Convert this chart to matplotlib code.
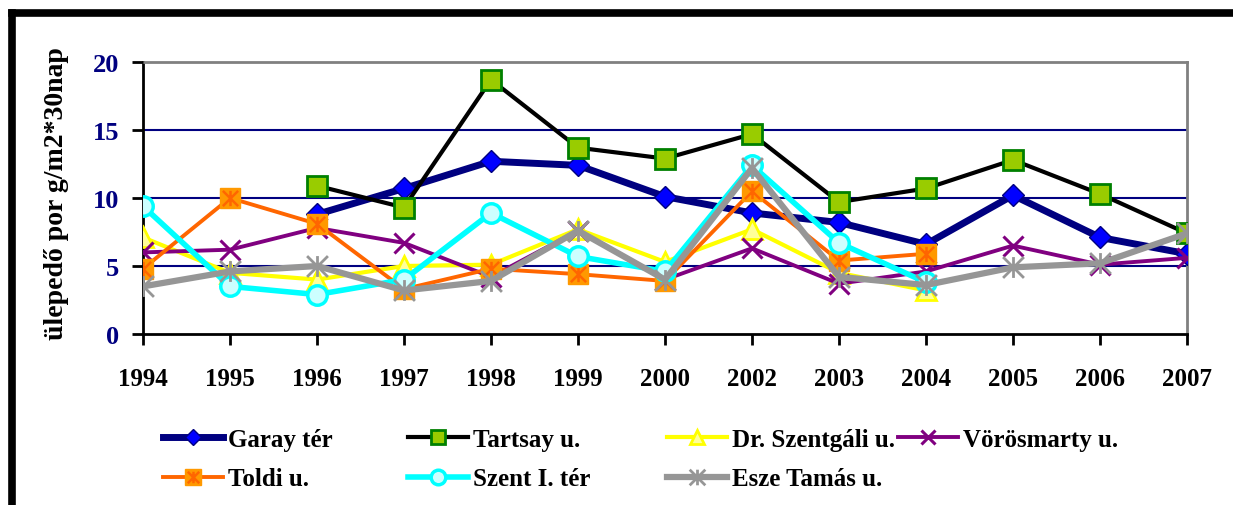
import matplotlib.pyplot as plt
import numpy as np
from matplotlib.lines import Line2D
from matplotlib.path import Path
from matplotlib.legend_handler import HandlerTuple

plt.rcParams['font.family'] = ['Liberation Serif', 'DejaVu Serif']
plt.rcParams['font.weight'] = 'bold'

years = ['1994', '1995', '1996', '1997', '1998', '1999', '2000',
         '2002', '2003', '2004', '2005', '2006', '2007']
nan = np.nan

garay = [nan, nan, 8.8, 10.7, 12.7, 12.4, 10.1, 8.9, 8.2, 6.6, 10.2, 7.1, 5.9]
tartsay = [nan, nan, 10.9, 9.3, 18.7, 13.7, 12.9, 14.7, 9.7, 10.7, 12.8, 10.3, 7.4]
szentgali = [7.1, 4.5, 4.0, 5.0, 5.1, 7.7, 5.3, 7.7, 4.5, 3.2, nan, nan, nan]
vorosmarty = [6.0, 6.2, 7.8, 6.7, 4.2, 7.6, 4.0, 6.3, 3.7, 4.6, 6.5, 5.1, 5.6]
toldi = [4.8, 10.0, 8.1, 3.3, 4.8, 4.4, 3.9, 10.5, 5.4, 5.9, nan, nan, nan]
szent_i = [9.4, 3.5, 2.9, 4.0, 8.9, 5.7, 4.6, 12.4, 6.7, 3.8, nan, nan, nan]
esze = [3.5, 4.6, 5.0, 3.2, 3.9, 7.6, 4.0, 12.2, 4.2, 3.6, 4.9, 5.2, 7.4]

# Excel style "star": vertical stroke plus an X
star = Path([(0, -1), (0, 1), (-1, -1), (1, 1), (-1, 1), (1, -1)],
            [Path.MOVETO, Path.LINETO] * 3)

fig = plt.figure(figsize=(12.33, 5.06), dpi=100)
ax = fig.add_axes([143 / 1233, 1 - 335 / 506, (1187 - 143) / 1233, (335 - 63) / 506])
x = np.arange(len(years))

h_garay, = ax.plot(x, garay, color='#000080', lw=5, marker='D', ms=11,
                   mfc='#0000FF', mec='#000080', mew=1)
h_tartsay, = ax.plot(x, tartsay, color='black', lw=3, marker='s', ms=14,
                     mfc='#99CC00', mec='#008000', mew=2)
h_szentgali, = ax.plot(x, szentgali, color='#FFFF00', lw=3, marker='^', ms=14,
                       mfc='#FFFF99', mec='#FFFF00', mew=2)
h_voros, = ax.plot(x, vorosmarty, color='#800080', lw=2.8, marker='x', ms=14,
                   mec='#800080', mew=2.2)
h_toldi, = ax.plot(x, toldi, color='#FF6600', lw=2.8, marker='s', ms=15,
                   mfc='#FF9900', mec='#FF9900', mew=1)
h_toldi_s, = ax.plot(x, toldi, ls='none', marker=star, ms=11,
                     mec='#FF6600', mew=1.8)
h_szent, = ax.plot(x, szent_i, color='#00FFFF', lw=4, marker='o', ms=14,
                   mfc='#CCFFFF', mec='#00FFFF', mew=2.5)
h_esze, = ax.plot(x, esze, color='#969696', lw=4.5, marker=star, ms=15,
                  mec='#969696', mew=2)

ax.set_xlim(0, 12)
ax.set_ylim(0, 20)
ax.set_xticks(x)
ax.set_xticklabels(years)
ax.set_yticks([0, 5, 10, 15, 20])
for v in [5, 10, 15]:
    ax.axhline(v, color='#000080', lw=1.5, zorder=0)
ax.tick_params(axis='x', direction='out', length=8, width=2, pad=16,
               labelsize=18, labelcolor='black')
ax.tick_params(axis='y', direction='out', length=8, width=2, pad=9,
               labelsize=19, labelcolor='#000080')
for lab in ax.get_xticklabels() + ax.get_yticklabels():
    lab.set_fontweight('bold')
ax.spines['left'].set_linewidth(2)
ax.spines['bottom'].set_linewidth(2)
ax.spines['top'].set_color('#808080')
ax.spines['top'].set_linewidth(2)
ax.spines['right'].set_color('#808080')
ax.spines['right'].set_linewidth(2)
for s in ax.spines.values():
    s.set_zorder(0.5)

ax.set_ylabel('ülepedő por g/m2*30nap', fontsize=20, fontweight='bold')
ax.yaxis.set_label_coords(-0.071, 0.52)

# legend: Excel spaces its columns evenly, so one legend per column
columns = [
    ([h_garay, (h_toldi, h_toldi_s)], ['Garay tér', 'Toldi u.'], 163),
    ([h_tartsay, h_szent], ['Tartsay u.', 'Szent I. tér'], 408),
    ([h_szentgali, h_esze], ['Dr. Szentgáli u.', 'Esze Tamás u.'], 667),
    ([h_voros], ['Vörösmarty u.'], 898),
]
for hs, ls, xpos in columns:
    leg = fig.legend(hs, ls, loc='upper left',
                     bbox_to_anchor=(xpos / 1233, 1 - 429 / 506), frameon=False,
                     prop={'size': 18, 'weight': 'bold'}, handlelength=2.4,
                     handletextpad=0.2, labelspacing=0.66,
                     borderaxespad=0, borderpad=0, markerscale=0.75,
                     handler_map={tuple: HandlerTuple(ndivide=1)})

# outer frame (left and top edges)
fig.add_artist(Line2D([12 / 1233, 12 / 1233], [0, 1 - 14 / 506],
                      transform=fig.transFigure, color='black', lw=5.5,
                      solid_capstyle='projecting'))
fig.add_artist(Line2D([12 / 1233, 1], [1 - 14 / 506, 1 - 14 / 506],
                      transform=fig.transFigure, color='black', lw=5.5,
                      solid_capstyle='projecting'))

fig.savefig('out.png', dpi=100)
